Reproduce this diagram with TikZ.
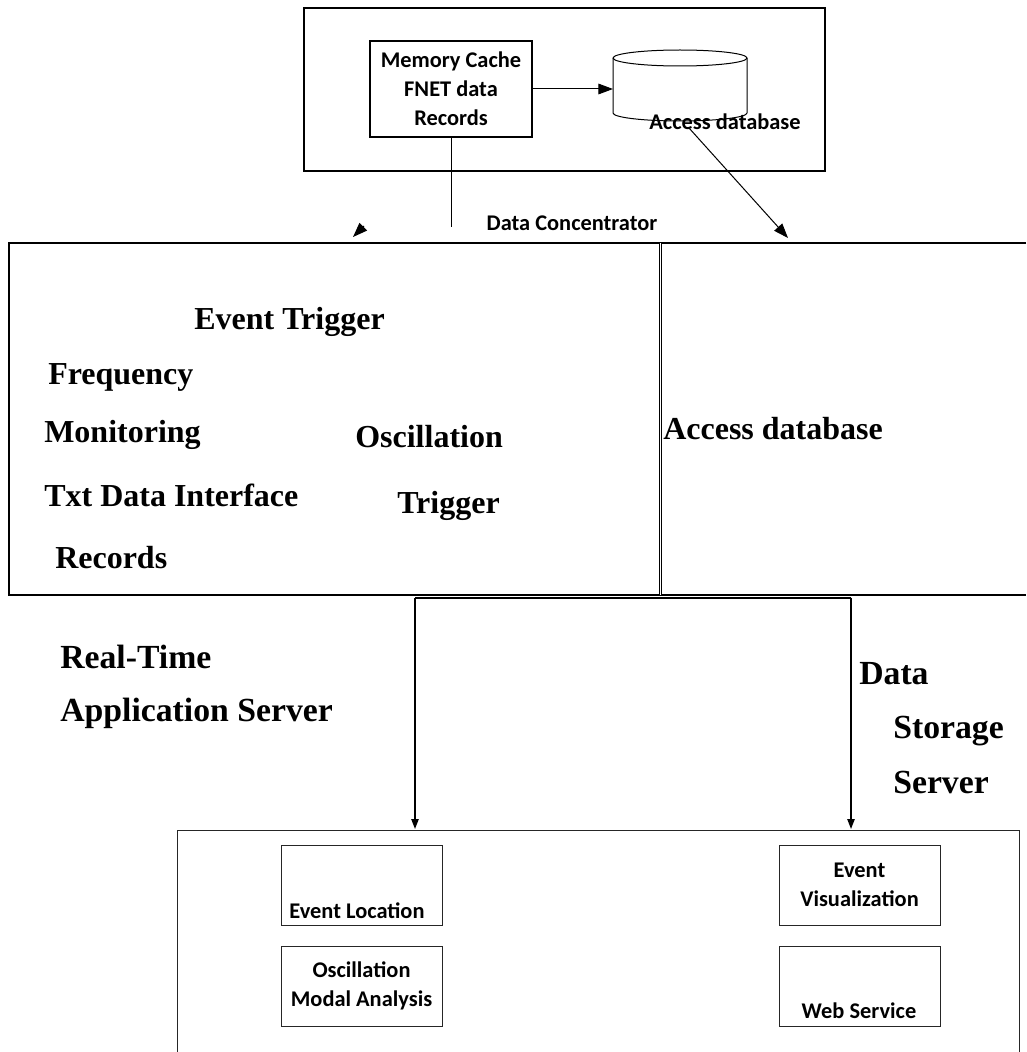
\documentclass[tikz,border=0pt]{standalone}
\usepackage{fontspec}
\setmainfont{Liberation Serif}
\newfontfamily\calibrifont{Carlito}
\usetikzlibrary{arrows.meta, positioning}

\begin{document}
\begin{tikzpicture}[x=0.75pt, y=-0.75pt,
   sans/.style = {font=\calibrifont\bfseries\fontsize{16.8}{21.75}\selectfont, align=center},
   serif/.style = {font=\bfseries\fontsize{24}{28}\selectfont, inner sep=0pt, anchor=base west},
   bigserif/.style = {serif, font=\bfseries\fontsize{25.3}{30}\selectfont},
   box/.style = {draw, line width=0.9pt, inner sep=0pt, outer sep=0pt},
   sbox/.style = {box, draw=black!85, line width=0.75pt, minimum width=120.75pt, minimum height=60pt, sans},
   link/.style = {-{Triangle[length=11pt, width=8pt]}, line width=0.75pt},
   drop/.style = {-{Triangle[length=7.5pt, width=5.5pt]}, line width=1.1pt}]
   \useasboundingbox (0,0) rectangle (1026,1052);

   % data concentrator
   \node[box, minimum width=390.75pt, minimum height=122.25pt] (dc) at (564.5,89.5) {};
   \node[box, sans, minimum width=121.5pt, minimum height=72pt] (cache) at (451,89) {Memory Cache\\FNET data\\Records};
   \node[inner sep=0pt, outer sep=0pt, minimum width=100.5pt, minimum height=41.25pt] (accessdb) at (680,85.5) {};
   \draw[line width=0.75pt] (accessdb.south west) -- (accessdb.north west)
      arc[start angle=180, end angle=0, x radius=50.25pt, y radius=6pt] -- (accessdb.south east)
      arc[start angle=0, end angle=-180, x radius=50.25pt, y radius=6pt];
   \draw[line width=0.75pt] (accessdb.north west)
      arc[start angle=180, end angle=360, x radius=50.25pt, y radius=6pt];
   \node[sans, anchor=base] (dblabel) at (725,130) {Access database};
   \node[sans, anchor=base] (dclabel) at (572,230) {Data Concentrator};
   \coordinate (cachedrop) at (451,227);
   \coordinate (dbout) at (689,128);
   \coordinate (dbin) at (788,238);
   \coordinate (strayfrom) at (364,226);
   \coordinate (strayto) at (353,237);

   \draw[link] (cache.east) -- (cache.east -| accessdb.west);
   \draw[line width=0.75pt] (cache.south) -- (cachedrop);
   \draw[link] (dbout) -- (dbin);
   \draw[link] (strayfrom) -- (strayto);

   % real-time application server / data storage server
   \draw[line width=1.5pt] (1026,243) -| (9,595) -- (1026,595);
   \draw[double, line width=0.6pt, double distance=1.1pt] (660.5,243) -- (660.5,595);
   \node[serif] (evtrig) at (194,329) {Event Trigger};
   \node[serif] (freq) at (48,384) {Frequency};
   \node[serif] (monit) at (44,442) {Monitoring};
   \node[serif] (txtdata) at (44,506) {Txt Data Interface};
   \node[serif] (records) at (55,568) {Records};
   \node[serif] (osc) at (355,447) {Oscillation};
   \node[serif] (osctrig) at (397,513) {Trigger};
   \node[serif] (dbtext) at (663,439) {Access database};
   \node[bigserif] (realtime) at (60,668) {Real-Time};
   \node[bigserif] (appserver) at (60,721) {Application Server};
   \node[bigserif] (dsdata) at (859,684) {Data};
   \node[bigserif] (dsstorage) at (893,738) {Storage};
   \node[bigserif] (dsserver) at (893,793) {Server};

   % applications
   \draw[line width=0.75pt, draw=black!85] (177,1052) |- (1019,830) -- (1019,1052);
   \coordinate (lowtop) at (600,829);
   \coordinate (busleft) at (415,597.5);
   \coordinate (busright) at (851,597.5);
   \draw[line width=1.5pt] (busleft) -- (busright);
   \draw[drop] (busleft) -- (busleft |- lowtop);
   \draw[drop] (busright) -- (busright |- lowtop);

   \node[sbox] (evloc) at (361.5,885) {};
   \node[sans, anchor=base] (evloctxt) at (357,918) {Event Location};
   \node[sbox] (oscmodal) at (361.5,986) {Oscillation\\Modal Analysis};
   \node[sbox] (evvis) at (859.5,885) {Event\\Visualization};
   \node[sbox] (websvc) at (859.5,986) {};
   \node[sans, anchor=base] (websvctxt) at (859,1018) {Web Service};
\end{tikzpicture}
\end{document}
